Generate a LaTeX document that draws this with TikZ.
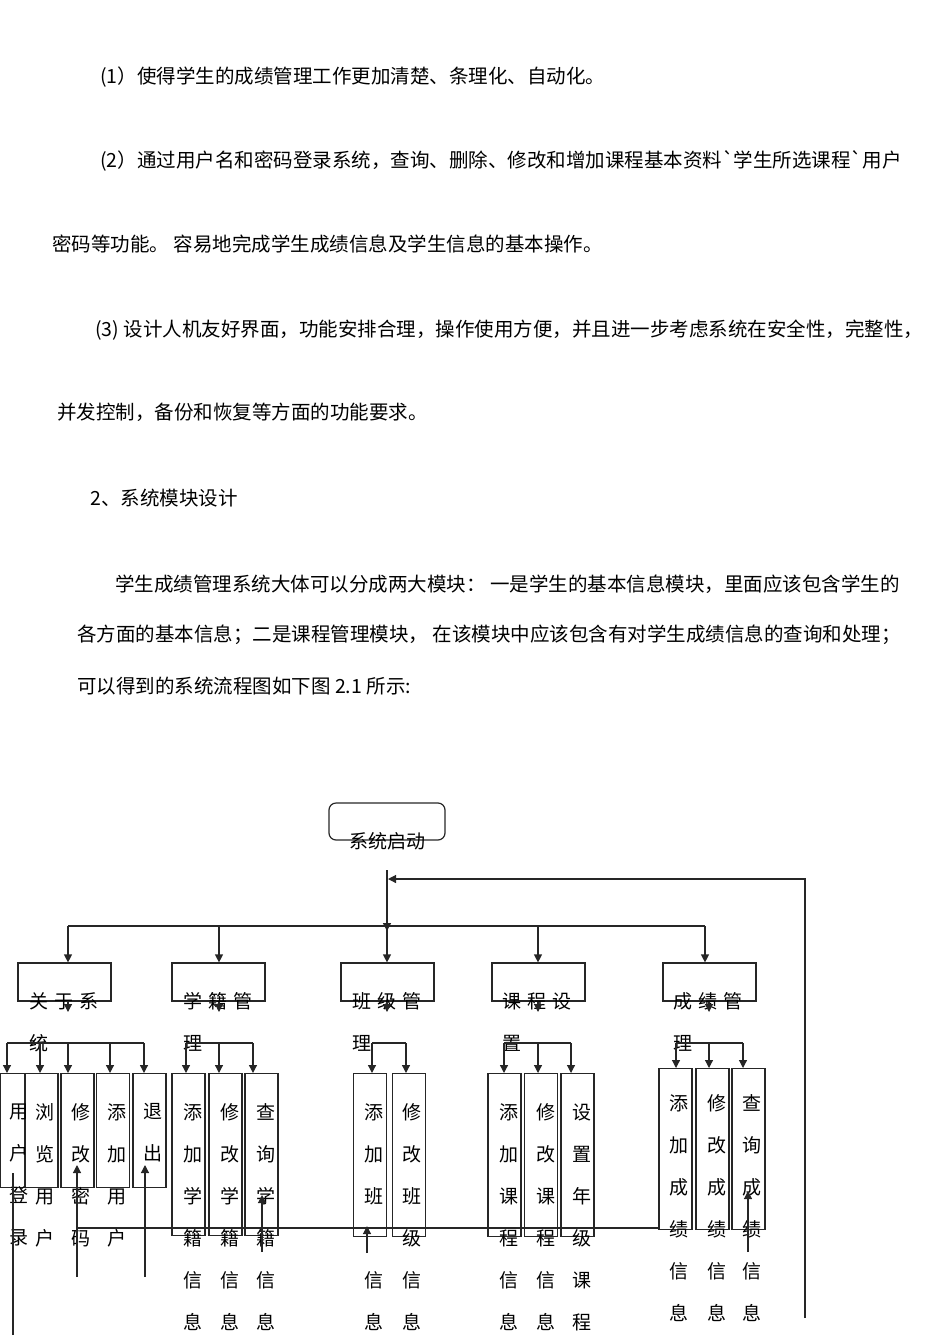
\documentclass[tikz,border=0pt]{standalone}
\usepackage{fontspec}
\setmainfont{Noto Sans CJK SC}
\setmonofont{Noto Sans CJK SC}
\usetikzlibrary{arrows.meta,positioning}

\newcommand{\cg}{\hspace{6pt}}
\newcommand{\bquote}{{\ttfamily `}}

\begin{document}
\begin{tikzpicture}[x=1pt, y=-1pt,
        para/.style={anchor=west, inner sep=0pt, font=\fontsize{19.5}{20}\selectfont},
        topbox/.style={draw=black!85, line width=1.2pt, minimum width=93pt, minimum height=38pt, inner sep=0pt},
        startbox/.style={draw=black!85, line width=1.2pt, rounded corners=7pt, minimum width=116pt, minimum height=37pt, inner sep=0pt},
        subbox/.style={draw=black!85, line width=1.2pt, minimum width=33pt, minimum height=#1, inner sep=0pt, anchor=north},
        toplbl/.style={anchor=north west, inner sep=0pt, align=left, font=\fontsize{19}{42}\selectfont},
        vlbl/.style={anchor=north, inner sep=0pt, align=center, font=\fontsize{19}{42}\selectfont},
        ln/.style={line width=1.2pt, color=black!85},
        arr/.style={-{Triangle[length=8pt,width=8pt]}, line width=1.2pt, color=black!85}
    ]
    \useasboundingbox (0,0) rectangle (950,1344);

    % text above the chart
    \node[para] (p1) at (100,77) {(1）使得学生的成绩管理工作更加清楚、条理化、自动化。};
    \node[para] (p2) at (100,161) {(2）通过用户名和密码登录系统，查询、删除、修改和增加课程基本资料\bquote 学生所选课程\bquote 用户};
    \node[para] (p3) at (52,244) {密码等功能。 容易地完成学生成绩信息及学生信息的基本操作。};
    \node[para] (p4) at (95,330) {(3) 设计人机友好界面，功能安排合理，操作使用方便，并且进一步考虑系统在安全性，完整性，};
    \node[para] (p5) at (57,412) {并发控制，备份和恢复等方面的功能要求。};
    \node[para] (p6) at (90,498) {2、系统模块设计};
    \node[para] (p7) at (115,584) {学生成绩管理系统大体可以分成两大模块： 一是学生的基本信息模块，里面应该包含学生的};
    \node[para] (p8) at (77,635) {各方面的基本信息；二是课程管理模块， 在该模块中应该包含有对学生成绩信息的查询和处理；};
    \node[para] (p9) at (77,686) {可以得到的系统流程图如下图 2.1 所示:};

    % start
    \node[startbox] (start) at (387,821.5) {};
    \node[inner sep=0pt, font=\fontsize{19}{20}\selectfont] (startt) at (387,841) {系统启动};

    % modules
    \node[topbox] (m1) at (64.5,982) {};
    \node[topbox] (m2) at (218.5,982) {};
    \node[topbox] (m3) at (387.5,982) {};
    \node[topbox] (m4) at (538.5,982) {};
    \node[topbox] (m5) at (709.5,982) {};
    \node[toplbl] (m1t) at ([xshift=12pt,yshift=9.5pt]m1.south west) {关\cg 于\cg 系\\统};
    \node[toplbl] (m2t) at ([xshift=12pt,yshift=9.5pt]m2.south west) {学\cg 籍\cg 管\\理};
    \node[toplbl] (m3t) at ([xshift=12pt,yshift=9.5pt]m3.south west) {班\cg 级\cg 管\\理};
    \node[toplbl] (m4t) at ([xshift=11pt,yshift=9.5pt]m4.south west) {课\cg 程\cg 设\\置};
    \node[toplbl] (m5t) at ([xshift=11pt,yshift=9.5pt]m5.south west) {成\cg 绩\cg 管\\理};

    % sub modules
    \node[subbox=114pt, minimum width=25pt] (a1) at (12.5,1073) {};
    \node[subbox=114pt] (a2) at (41.5,1073) {};
    \node[subbox=114pt] (a3) at (77.5,1073) {};
    \node[subbox=114pt] (a4) at (113,1073) {};
    \node[subbox=114pt] (a5) at (149.5,1073) {};
    \node[subbox=162pt] (b1) at (188.5,1073) {};
    \node[subbox=162pt] (b2) at (225.5,1073) {};
    \node[subbox=162pt] (b3) at (261.5,1073) {};
    \node[subbox=163pt] (c1) at (370,1073) {};
    \node[subbox=163pt] (c2) at (409,1073) {};
    \node[subbox=163pt] (d1) at (504.5,1073) {};
    \node[subbox=163pt] (d2) at (541,1073) {};
    \node[subbox=163pt] (d3) at (577.5,1073) {};
    \node[subbox=161pt] (e1) at (675.5,1068) {};
    \node[subbox=161pt] (e2) at (712.5,1068) {};
    \node[subbox=161pt] (e3) at (748.5,1068) {};

    \node[vlbl] (a1t) at (19,1103.5) {用\\户\\登\\录};
    \node[vlbl] (a2t) at (45,1103.5) {浏\\览\\用\\户};
    \node[vlbl] (a3t) at (81,1103.5) {修\\改\\密\\码};
    \node[vlbl] (a4t) at (117,1103.5) {添\\加\\用\\户};
    \node[vlbl] (a5t) at (153,1103.5) {退\\出};
    \node[vlbl] (b1t) at (193,1103.5) {添\\加\\学\\籍\\信\\息};
    \node[vlbl] (b2t) at (230,1103.5) {修\\改\\学\\籍\\信\\息};
    \node[vlbl] (b3t) at (266,1103.5) {查\\询\\学\\籍\\信\\息};
    \node[vlbl] (c1t) at (374,1103.5) {添\\加\\班\\\mbox{}\\信\\息};
    \node[vlbl] (c2t) at (412,1103.5) {修\\改\\班\\级\\信\\息};
    \node[vlbl] (d1t) at (509,1103.5) {添\\加\\课\\程\\信\\息};
    \node[vlbl] (d2t) at (546,1103.5) {修\\改\\课\\程\\信\\息};
    \node[vlbl] (d3t) at (582,1103.5) {设\\置\\年\\级\\课\\程};
    \node[vlbl] (e1t) at (679,1094.5) {添\\加\\成\\绩\\信\\息};
    \node[vlbl] (e2t) at (717,1094.5) {修\\改\\成\\绩\\信\\息};
    \node[vlbl] (e3t) at (752,1094.5) {查\\询\\成\\绩\\信\\息};

    % main bus
    \coordinate (s0) at (387,870);
    \coordinate (bus1) at (68,926);
    \coordinate (bus2) at (219,926);
    \coordinate (bus3) at (387,926);
    \coordinate (bus4) at (538,926);
    \coordinate (bus5) at (705,926);
    \draw[arr] (s0) -- ([yshift=-5pt]bus3);
    \draw[ln] (bus1) -- (bus5);
    \foreach \i in {1,...,5}
        \draw[arr] (bus\i) -- (bus\i |- m\i.north);

    % short arrows under the modules
    \foreach \i/\x in {1/68,2/219,3/387,4/538,5/709} {
        \coordinate (m\i d) at (\x,1012);
        \draw[arr] (m\i.south -| m\i d) -- (m\i d);
    }

    % sub buses
    \foreach \n/\x in {a1/7,a2/40,a3/68,a4/110,a5/144,b1/186,b2/219,b3/253,c1/372,c2/406,d1/504,d2/538,d3/571,e1/676,e2/709,e3/743} {
        \coordinate (\n u) at (\x,1043);
        \draw[arr] (\n u) -- (\n u |- \n.north);
    }
    \draw[ln] (a1u) -- (a5u);
    \draw[ln] (b1u) -- (b3u);
    \draw[ln] (c1u) -- (c2u);
    \draw[ln] (d1u) -- (d3u);
    \draw[ln] (e1u) -- (e3u);

    % return lines
    \coordinate (r1a) at (13,1335);
    \coordinate (r1b) at (13,1173);
    \draw[ln] (r1a) -- (r1b);
    \coordinate (r2a) at (77,1277);
    \coordinate (r2b) at (77,1165);
    \draw[arr] (r2a) -- (r2b);
    \coordinate (r3a) at (145,1277);
    \coordinate (r3b) at (145,1165);
    \draw[arr] (r3a) -- (r3b);
    \coordinate (r4a) at (262,1252);
    \coordinate (r4b) at (262,1195);
    \draw[arr] (r4a) -- (r4b);
    \coordinate (r5a) at (367,1253);
    \coordinate (r5b) at (367,1226);
    \draw[arr] (r5a) -- (r5b);
    \coordinate (r6a) at (748,1252);
    \coordinate (r6b) at (748,1191);
    \draw[arr] (r6a) -- (r6b);
    \coordinate (hl1) at (77,1228);
    \coordinate (hl2) at (658,1228);
    \draw[ln] (hl1) -- (hl2);

    % feedback to start
    \coordinate (fbB) at (805,1318);
    \coordinate (fbT) at (805,879);
    \coordinate (fbE) at (388,879);
    \draw[arr] (fbB) -- (fbT) -- (fbE);
\end{tikzpicture}
\end{document}
